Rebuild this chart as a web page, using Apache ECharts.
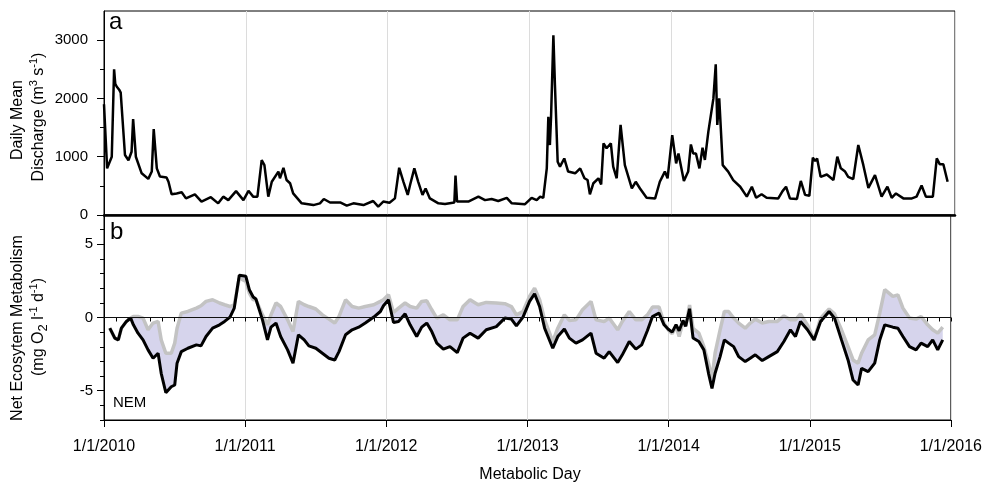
<!DOCTYPE html>
<html><head><meta charset="utf-8">
<script src="https://cdn.jsdelivr.net/npm/echarts@6/dist/echarts.min.js"></script>
<style>html,body{margin:0;padding:0;background:#fff}#c{width:985px;height:484px}</style>
</head><body><div id="c"></div>
<script>
// ---- data (x = days since 1/1/2010) ----
const yearTickLabels = ['1/1/2010','1/1/2011','1/1/2012','1/1/2013','1/1/2014','1/1/2015','1/1/2016'];
const dischargeTickValues = [0, 1000, 2000, 3000];
const nemTickValues = [-5, 0, 5];

const dischargeDays = [0,8,20,26,29,33,39,43,54,63,71,75,82,97,114,123,128,136,144,161,166,174,187,200,211,234,251,275,294,307,320,340,359,372,384,395,406,413,423,432,449,453,462,470,479,487,509,539,556,566,582,608,625,642,668,693,706,719,735,749,760,771,782,788,799,809,820,828,839,861,878,902,905,909,938,964,981,998,1015,1037,1050,1084,1101,1114,1123,1131,1140,1144,1148,1151,1157,1161,1168,1174,1185,1195,1213,1226,1237,1245,1251,1260,1273,1280,1286,1294,1305,1311,1320,1330,1341,1359,1369,1380,1397,1419,1431,1444,1451,1463,1473,1479,1493,1504,1511,1517,1524,1533,1541,1547,1556,1569,1575,1579,1584,1593,1607,1620,1638,1655,1668,1679,1693,1706,1736,1747,1756,1766,1784,1794,1805,1816,1825,1831,1836,1845,1861,1878,1888,1897,1908,1916,1929,1942,1955,1968,1985,2002,2017,2028,2039,2058,2080,2092,2105,2116,2134,2144,2152,2161,2172];
const dischargeValues = [1900,800,1000,2500,2250,2200,2150,2100,1030,940,1085,1645,1000,715,620,745,1475,800,660,645,570,355,370,390,285,355,230,305,200,315,255,410,255,415,315,315,940,855,315,570,745,630,810,600,545,370,200,170,200,275,215,215,160,200,170,240,145,230,210,285,810,570,345,515,800,570,345,455,285,200,190,215,675,230,230,315,255,275,240,295,200,185,295,255,315,295,800,1685,1200,1685,3085,2230,915,830,970,745,715,800,630,600,355,545,630,525,1230,1145,1230,830,630,1545,855,455,570,455,295,285,570,745,630,1370,885,1055,585,745,1210,1055,1055,800,1155,945,1430,2000,2585,1545,2000,855,745,600,485,315,485,295,355,295,285,410,485,285,275,585,345,330,985,925,970,655,695,600,1000,800,745,655,615,1200,855,465,685,315,485,295,370,285,285,315,505,315,315,970,870,870,570];

const nemDays = [15,28,37,45,58,69,76,88,101,114,127,140,148,160,174,183,189,200,217,239,251,264,281,299,312,326,337,350,367,376,386,393,410,423,432,445,457,475,489,503,518,530,548,565,582,597,608,625,642,659,676,698,715,723,736,749,762,779,792,809,822,835,848,861,878,895,914,929,947,968,989,1015,1037,1054,1067,1084,1101,1114,1127,1140,1161,1174,1191,1204,1221,1238,1260,1273,1294,1307,1329,1341,1359,1376,1391,1406,1419,1436,1449,1460,1470,1480,1488,1498,1505,1515,1524,1539,1552,1564,1573,1581,1594,1605,1616,1629,1642,1659,1672,1685,1703,1720,1742,1759,1776,1789,1802,1820,1837,1854,1876,1890,1908,1925,1938,1951,1960,1977,1994,2007,2020,2041,2054,2067,2084,2101,2114,2131,2144,2157,2170];
const nemBlack = [-0.73,-1.41,-1.53,-0.73,-0.27,-0.04,-0.5,-1.07,-1.53,-2.21,-2.78,-2.44,-3.81,-5.14,-4.73,-4.61,-3.12,-2.33,-2.1,-1.87,-1.94,-1.3,-0.73,-0.5,-0.27,0.03,0.64,2.88,2.81,1.9,1.4,1.26,-0.16,-1.53,-0.66,-0.38,-1.3,-2.21,-3.12,-1.18,-1.53,-1.94,-2.1,-2.44,-2.78,-2.9,-2.33,-1.18,-0.84,-0.66,-0.38,0.03,0.41,0.8,1.21,-0.34,-0.27,0.25,-0.5,-1.3,-0.66,-0.38,-0.96,-1.75,-2.16,-1.99,-2.4,-1.41,-1.07,-1.41,-0.84,-0.62,-0.04,-0.11,-0.57,0.03,1.1,1.62,0.75,-0.73,-2.1,-1.3,-0.79,-1.41,-1.75,-1.53,-1.07,-2.44,-2.78,-2.33,-3.08,-2.55,-1.64,-2.16,-1.87,-0.89,0.07,0.3,-0.5,-0.8,-1.0,-0.5,-0.9,-0.2,-0.6,0.6,-1.4,-1.64,-2.21,-3.81,-4.84,-3.81,-2.67,-1.53,-1.75,-1.99,-2.67,-3.01,-2.78,-2.55,-2.94,-2.67,-2.33,-1.64,-0.84,-1.3,-0.27,-0.84,-1.53,-0.27,0.41,-0.04,-1.53,-2.9,-4.27,-4.61,-3.47,-3.7,-3.12,-1.53,-0.5,-0.66,-0.73,-1.3,-1.99,-2.21,-1.75,-1.99,-1.53,-2.21,-1.53];
const nemGrey = [-0.73,-1.41,-1.53,-0.73,-0.27,-0.04,0.07,0.07,-0.04,-0.84,-0.38,-0.27,-1.53,-2.44,-2.44,-1.75,-0.73,0.3,0.41,0.64,0.8,1.1,1.21,0.99,0.87,0.75,0.87,2.7,2.47,1.67,1.21,1.21,0.18,-0.5,0.18,0.99,0.75,-0.16,-0.96,1.1,0.87,0.75,0.58,0.18,-0.11,-0.38,0.07,1.21,0.75,0.64,0.75,0.87,1.1,1.21,1.55,0.34,0.64,0.99,0.75,0.64,1.1,1.14,0.53,-0.04,0.18,-0.16,-0.16,0.75,1.21,0.87,1.03,0.99,0.94,0.75,0.18,0.41,1.44,2.01,1.21,-0.16,-1.64,-0.73,0.18,-0.2,-0.16,0.53,1.1,-0.16,-0.27,-0.04,-0.84,-0.27,0.41,-0.16,-0.16,0.18,0.71,0.71,-0.38,-0.85,-1.1,-0.6,-1.3,-0.3,-0.6,0.85,-0.75,-1.07,-1.99,-3.12,-4.15,-2.44,-0.84,0.41,0.41,-0.04,-0.38,-0.73,-0.38,-0.11,-0.38,-0.27,-0.27,0.11,-0.16,-0.16,0.25,-0.5,-1.53,-0.04,0.58,0.25,-0.84,-1.99,-2.9,-3.12,-2.44,-1.53,-1.18,0.3,1.9,1.44,1.55,0.64,-0.04,-0.11,0.07,-0.5,-0.84,-1.07,-0.66];

// ---- helpers ----
const DAY = 86400000;
const T0 = Date.UTC(2010, 0, 1);
const dayOf = (y, m) => Math.round((Date.UTC(y, m, 1) - T0) / DAY);
const years = [2010, 2011, 2012, 2013, 2014, 2015, 2016];
const yearTicks = years.map(y => dayOf(y, 0));
const monthTicks = [];
for (let y = 2010; y < 2016; y++) for (let m = 0; m < 12; m++) monthTicks.push(dayOf(y, m));
monthTicks.push(dayOf(2016, 0));
const nemMinorTicks = [];
for (let v = -7; v <= 7; v++) nemMinorTicks.push(v);

const xMin = yearTicks[0], xMax = yearTicks[yearTicks.length - 1];
const FONT = '"Liberation Sans", Arial, Helvetica, sans-serif';

const dischargeData = dischargeDays.map((d, i) => [d, dischargeValues[i]]);
const blackData = nemDays.map((d, i) => [d, nemBlack[i]]);
const greyData = nemDays.map((d, i) => [d, nemGrey[i]]);
const bandData = nemDays.map((d, i) => [d, nemBlack[i], nemGrey[i]]);

const chart = echarts.init(document.getElementById('c'), null, {renderer: 'canvas'});
const grids = [
  {left: 104, top: 11, width: 851, height: 204, show: true, borderColor: '#000', borderWidth: 1, backgroundColor: 'transparent'},
  {left: 104, top: 215, width: 851, height: 205, show: true, borderColor: '#000', borderWidth: 1, backgroundColor: 'transparent'}
];
const baseX = {type: 'value', min: xMin, max: xMax};
const plain = v => String(v);
const option = {
  animation: false,
  textStyle: {fontFamily: FONT},
  grid: grids,
  xAxis: [
    Object.assign({}, baseX, {
      gridIndex: 0, position: 'bottom',
      axisLine: {onZero: false, lineStyle: {color: '#000', width: 2.5}},
      axisTick: {show: false, customValues: yearTicks},
      axisLabel: {show: false, customValues: yearTicks},
      splitLine: {show: true, lineStyle: {color: '#dcdcdc', width: 1}}
    }),
    Object.assign({}, baseX, {
      gridIndex: 1, position: 'bottom',
      axisLine: {onZero: false, lineStyle: {color: '#000', width: 1}},
      axisTick: {show: true, length: 7, customValues: yearTicks, lineStyle: {color: '#000', width: 1}},
      axisLabel: {show: true, customValues: yearTicks, margin: 19, color: '#000', fontSize: 16, fontFamily: FONT,
        formatter: v => { const i = yearTicks.indexOf(v); return i >= 0 ? yearTickLabels[i] : ''; }},
      splitLine: {show: true, lineStyle: {color: '#dcdcdc', width: 1}}
    }),
    Object.assign({}, baseX, {
      gridIndex: 1, position: 'bottom',
      axisLine: {show: false},
      axisTick: {show: true, length: 4, customValues: monthTicks, lineStyle: {color: '#000', width: 1}},
      axisLabel: {show: false},
      splitLine: {show: false}
    })
  ],
  yAxis: [
    {
      type: 'value', gridIndex: 0, min: 0, max: 3500, position: 'left',
      axisLine: {show: true, onZero: false, lineStyle: {color: '#000', width: 1}},
      axisTick: {show: true, length: 7, customValues: dischargeTickValues, lineStyle: {color: '#000'}},
      axisLabel: {customValues: dischargeTickValues, margin: 16, color: '#000', fontSize: 15, fontFamily: FONT, formatter: plain},
      splitLine: {show: false}
    },
    {
      type: 'value', gridIndex: 1, min: -7, max: 7, position: 'left',
      axisLine: {show: true, onZero: false, lineStyle: {color: '#000', width: 1}},
      axisTick: {show: true, length: 7, customValues: nemTickValues, lineStyle: {color: '#000'}},
      axisLabel: {customValues: nemTickValues, margin: 11, color: '#000', fontSize: 15, fontFamily: FONT, formatter: plain},
      splitLine: {show: false}
    },
    {
      type: 'value', gridIndex: 0, min: 0, max: 3500, position: 'left',
      axisLine: {show: false},
      axisTick: {show: true, length: 4, customValues: [500, 1500, 2500], lineStyle: {color: '#000'}},
      axisLabel: {show: false}, splitLine: {show: false}
    },
    {
      type: 'value', gridIndex: 1, min: -7, max: 7, position: 'left',
      axisLine: {show: false},
      axisTick: {show: true, length: 4, customValues: nemMinorTicks, lineStyle: {color: '#000'}},
      axisLabel: {show: false}, splitLine: {show: false}
    }
  ],
  series: [
    {
      name: 'Daily Mean Discharge', type: 'line', xAxisIndex: 0, yAxisIndex: 0,
      data: dischargeData, showSymbol: false, symbol: 'none',
      lineStyle: {color: '#000', width: 2.5}, z: 5
    },
    {
      name: 'band', type: 'custom', xAxisIndex: 1, yAxisIndex: 1, silent: true, z: 1,
      data: bandData, encode: {x: 0, y: [1, 2]},
      renderItem: (params, api) => {
        if (params.dataIndex !== 0) return null;
        const pts = [];
        for (let i = 0; i < bandData.length; i++) pts.push(api.coord([bandData[i][0], bandData[i][1]]));
        for (let i = bandData.length - 1; i >= 0; i--) pts.push(api.coord([bandData[i][0], bandData[i][2]]));
        return {type: 'polygon', shape: {points: pts}, style: {fill: '#d6d4ec', stroke: null}};
      }
    },
    {
      name: 'NEM grey', type: 'line', xAxisIndex: 1, yAxisIndex: 1,
      data: greyData, symbol: 'none', lineStyle: {color: '#c3c3c3', width: 3.5}, z: 3,
      markLine: {
        silent: true, symbol: 'none', label: {show: false},
        lineStyle: {color: '#111', width: 1.2, type: 'solid'},
        data: [{yAxis: 0}]
      }
    },
    {
      name: 'NEM', type: 'line', xAxisIndex: 1, yAxisIndex: 1,
      data: blackData, symbol: 'none', lineStyle: {color: '#000', width: 3}, z: 4
    }
  ],
  graphic: [
    {type: 'text', x: 109, y: 22, z: 10, style: {text: 'a', font: '24px ' + FONT, fill: '#000', align: 'left', verticalAlign: 'middle'}},
    {type: 'text', x: 110, y: 232, z: 10, style: {text: 'b', font: '24px ' + FONT, fill: '#000', align: 'left', verticalAlign: 'middle'}},
    {type: 'text', x: 113, y: 403, z: 10, style: {text: 'NEM', font: '15px ' + FONT, fill: '#000', align: 'left', verticalAlign: 'middle'}},
    {type: 'text', x: 530, y: 475, z: 10, style: {text: 'Metabolic Day', font: '16px ' + FONT, fill: '#000', align: 'center', verticalAlign: 'middle'}},
    {type: 'text', x: 18, y: 120, rotation: Math.PI / 2, z: 10,
      style: {text: 'Daily Mean', font: '16px ' + FONT, fill: '#000', align: 'center', verticalAlign: 'middle'}},
    {type: 'text', x: 39, y: 117, rotation: Math.PI / 2, z: 10,
      style: {text: '{n|Discharge (m}{s|3}{n| s}{s|-1}{n|)}', fill: '#000', align: 'center', verticalAlign: 'middle',
        rich: {n: {fontSize: 16, fontFamily: FONT, lineHeight: 22, fill: '#000'},
               s: {fontSize: 11, fontFamily: FONT, lineHeight: 11, verticalAlign: 'top', fill: '#000'}}}},
    {type: 'text', x: 18, y: 328, rotation: Math.PI / 2, z: 10,
      style: {text: 'Net Ecosytem Metabolism', font: '16px ' + FONT, fill: '#000', align: 'center', verticalAlign: 'middle'}},
    {type: 'text', x: 39, y: 327, rotation: Math.PI / 2, z: 10,
      style: {text: '{n|(mg O}{b|2}{n| l}{s|-1}{n| d}{s|-1}{n|)}', fill: '#000', align: 'center', verticalAlign: 'middle',
        rich: {n: {fontSize: 16, fontFamily: FONT, lineHeight: 22, fill: '#000'},
               s: {fontSize: 11, fontFamily: FONT, lineHeight: 11, verticalAlign: 'top', fill: '#000'},
               b: {fontSize: 13, fontFamily: FONT, lineHeight: 13, verticalAlign: 'bottom', fill: '#000'}}}}
  ]
};
chart.setOption(option);
</script>
</body></html>
